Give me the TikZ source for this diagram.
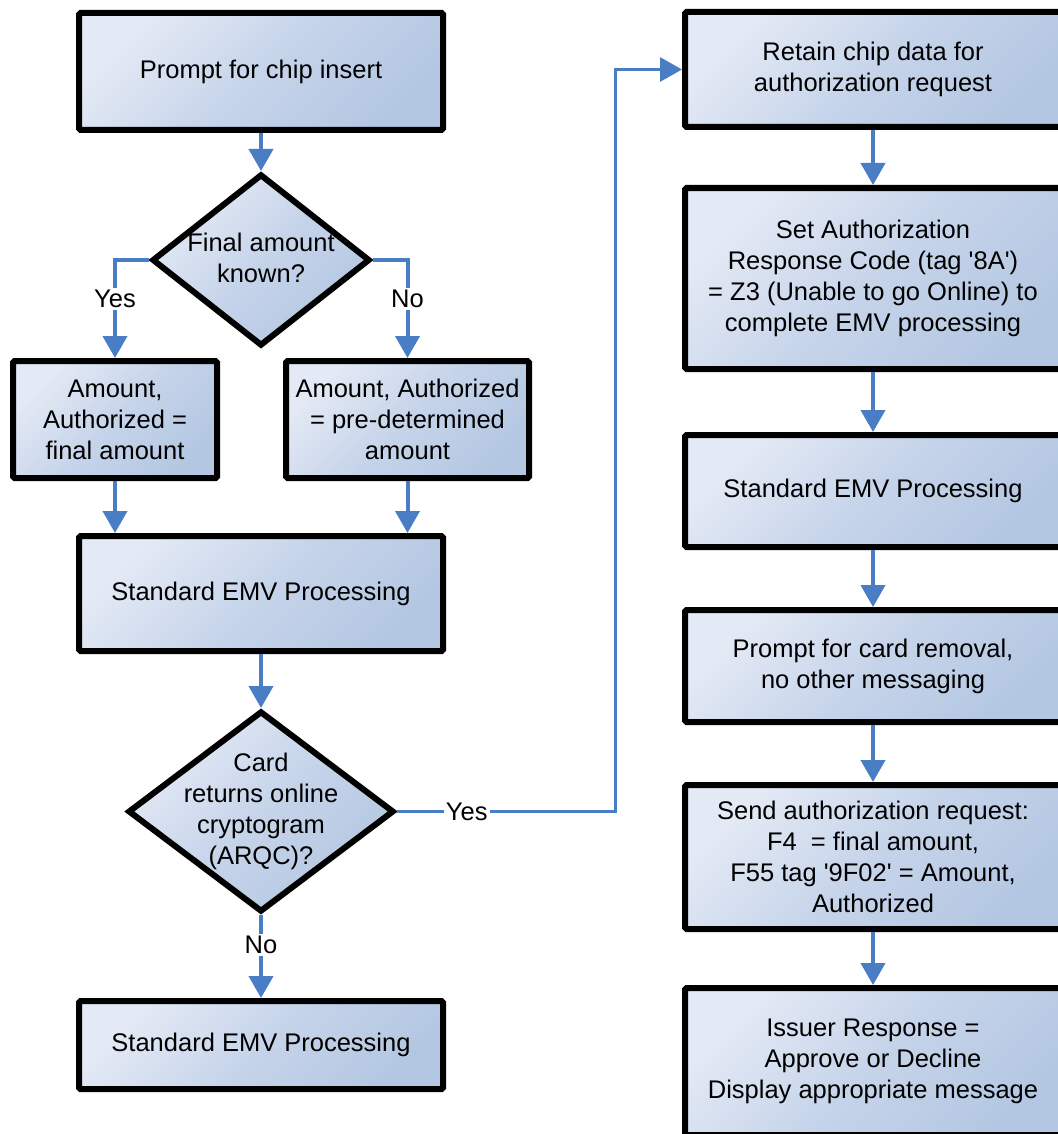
\documentclass[tikz,border=0pt]{standalone}
\usepackage{fontspec}
\setmainfont{Liberation Sans}
\usetikzlibrary{shapes.geometric,arrows.meta}
\definecolor{boxlight}{HTML}{E4EAF5}
\definecolor{boxmid}{HTML}{C6D4EA}
\definecolor{boxdark}{HTML}{B4C7E2}
\definecolor{flowblue}{HTML}{4A7EC4}
\begin{document}
\begin{tikzpicture}[x=1pt, y=-1pt,
  box/.style={draw, line width=6pt, rounded corners=1.5pt, top color=boxlight, bottom color=boxdark, middle color=boxmid, shading angle=45, align=center, inner sep=0pt, font=\fontsize{25.5}{31}\selectfont},
  decision/.style={diamond, draw, line width=6pt, top color=boxlight, bottom color=boxdark, middle color=boxmid, shading angle=45, inner sep=0pt},
  txt/.style={align=center, inner sep=0pt, font=\fontsize{25.5}{31}\selectfont},
  flow/.style={draw=flowblue, line width=4pt, -{Triangle[width=24pt,length=22pt]}},
  lbl/.style={fill=white, inner sep=2pt, font=\fontsize{25.5}{31}\selectfont}]
\fill[white] (0,0) rectangle (1057,1134);
\useasboundingbox (0,0) rectangle (1057,1134);
\node[box, minimum width=364pt, minimum height=117pt] (b1) at (261,71.5){Prompt for chip insert};
\node[decision, minimum width=218pt, minimum height=172pt] (d1) at (261,260){};
\node[txt] (d1t) at (261,258){Final amount\\known?};
\node[box, minimum width=204pt, minimum height=117pt] (b2) at (115,419.5){Amount,\\Authorized =\\final amount};
\node[box, minimum width=243pt, minimum height=117pt] (b3) at (407.5,419.5){Amount, Authorized\\= pre-determined\\amount};
\node[box, minimum width=364pt, minimum height=115pt] (b4) at (261,593.5){Standard EMV Processing};
\node[decision, minimum width=266pt, minimum height=201pt] (d2) at (261,811.5){};
\node[txt] (d2t) at (261,811.5){Card\\returns online\\cryptogram\\(ARQC)?};
\node[box, minimum width=364pt, minimum height=88pt] (b5) at (261,1045){Standard EMV Processing};
\node[box, minimum width=376pt, minimum height=115pt] (r1) at (873,69.5){Retain chip data for\\authorization request};
\node[box, minimum width=376pt, minimum height=181pt] (r2) at (873,278.5){Set Authorization\\Response Code (tag \textquotesingle 8A\textquotesingle)\\= Z3 (Unable to go Online) to\\complete EMV processing};
\node[box, minimum width=376pt, minimum height=112pt] (r3) at (873,491){Standard EMV Processing};
\node[box, minimum width=376pt, minimum height=112pt] (r4) at (873,666){Prompt for card removal,\\no other messaging};
\node[box, minimum width=376pt, minimum height=144pt] (r5) at (873,857){Send authorization request:\\F4\ \ = final amount,\\F55 tag \textquotesingle 9F02\textquotesingle\ = Amount,\\Authorized};
\node[box, minimum width=376pt, minimum height=147pt] (r6) at (873,1061.5){Issuer Response =\\Approve or Decline\\Display appropriate message};
\coordinate (turn) at (615,811.5);
\draw[flow](b1) -- (d1);
\draw[flow](d1.west) -| node[lbl, pos=.7]{Yes} (b2.north);
\draw[flow](d1.east) -| node[lbl, pos=.7]{No} (b3.north);
\draw[flow](b2.south) -- (b2.south |- b4.north);
\draw[flow](b3.south) -- (b3.south |- b4.north);
\draw[flow](b4) -- (d2);
\draw[flow](d2) -- node[lbl, pos=.36]{No} (b5);
\draw[flow, line width=3pt](d2.east) -- node[lbl, pos=.32]{Yes} (turn) |- (r1.west);
\draw[flow](r1) -- (r2);
\draw[flow](r2) -- (r3);
\draw[flow](r3) -- (r4);
\draw[flow](r4) -- (r5);
\draw[flow](r5) -- (r6);
\end{tikzpicture}
\end{document}
